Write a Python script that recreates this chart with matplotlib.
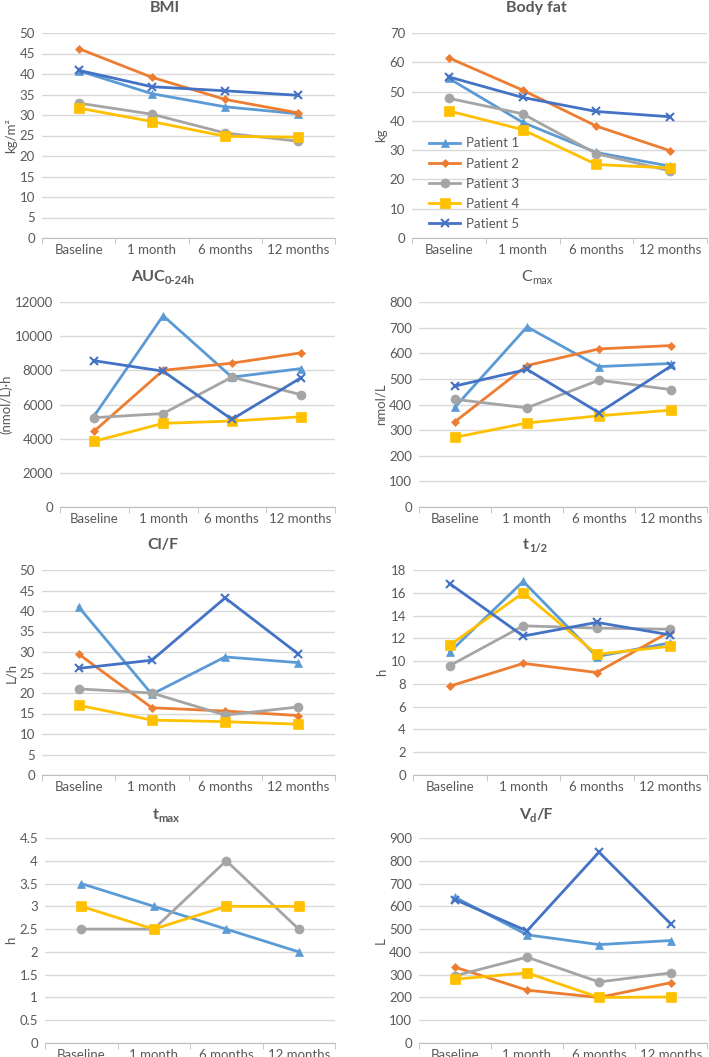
import matplotlib
matplotlib.use("Agg")
import matplotlib.pyplot as plt
from matplotlib import font_manager

# pick a family that really has a bold face installed
title_family = 'DejaVu Sans'
for fam in ['Lato', 'Open Sans', 'Roboto', 'Noto Sans', 'Liberation Sans']:
    path = font_manager.findfont(font_manager.FontProperties(family=fam, weight='bold'),
                                 fallback_to_default=False)
    if 'bold' in path.lower():
        title_family = fam
        break

plt.rcParams['font.family'] = ['Lato', 'DejaVu Sans']

timepoints = ['Baseline', '1 month', '6 months', '12 months']
patients = ['Patient 1', 'Patient 2', 'Patient 3', 'Patient 4', 'Patient 5']

bmi = [[40.8, 35.2, 32.0, 30.3],
       [46.2, 39.2, 33.8, 30.5],
       [32.9, 30.2, 25.6, 23.6],
       [31.7, 28.4, 24.8, 24.6],
       [40.9, 36.9, 35.9, 34.8]]
body_fat = [[54.5, 39.5, 29.2, 24.5],
            [61.5, 50.5, 38.2, 29.8],
            [47.7, 42.4, 28.8, 22.9],
            [43.4, 37.0, 25.1, 23.9],
            [55.0, 48.0, 43.2, 41.4]]
auc = [[5350, 11200, 7600, 8100],
       [4450, 8000, 8420, 9020],
       [5230, 5470, 7600, 6580],
       [3850, 4900, 5030, 5280],
       [8560, 7950, 5130, 7550]]
cmax = [[390, 703, 548, 560],
        [333, 552, 617, 630],
        [420, 387, 495, 458],
        [272, 328, 356, 378],
        [472, 537, 368, 550]]
cl_f = [[41.0, 19.7, 28.8, 27.4],
        [29.5, 16.4, 15.6, 14.5],
        [21.0, 20.0, 14.6, 16.6],
        [17.0, 13.4, 13.0, 12.4],
        [26.0, 28.0, 43.2, 29.5]]
t_half = [[10.8, 17.0, 10.4, 11.6],
          [7.8, 9.8, 9.0, 12.6],
          [9.6, 13.1, 12.9, 12.8],
          [11.4, 16.0, 10.6, 11.3],
          [16.8, 12.2, 13.4, 12.3]]
# only patients 1, 3 and 4 show in the tmax panel
tmax = [[3.5, 3.0, 2.5, 2.0],
        None,
        [2.5, 2.5, 4.0, 2.5],
        [3.0, 2.5, 3.0, 3.0],
        None]
vd_f = [[640, 475, 432, 450],
        [333, 232, 200, 265],
        [295, 377, 268, 308],
        [280, 308, 200, 202],
        [630, 492, 838, 522]]

colors = ['#5B9BD5', '#ED7D31', '#A5A5A5', '#FFC000', '#4472C4']
markers = ['^', 'D', 'o', 's', 'x']
msizes = [6, 4.5, 6.5, 7, 6]
grey = '#595959'

fig = plt.figure(figsize=(7.09, 10.57), dpi=100)
W, H = 709.0, 1057.0
renderer = fig.canvas.get_renderer()


def draw_title(parts, cx, cy, bold=True):
    # parts: list of (text, is_subscript); centred on cx, cy (pixels from top-left)
    weight = 'bold' if bold else 'normal'
    texts = []
    for txt, sub in parts:
        t = fig.text(0, 0, txt, fontsize=8 if sub else 11.5, weight=weight,
                     family=title_family, color=grey, ha='left', va='center')
        texts.append((t, sub, t.get_window_extent(renderer).width))
    total = sum(w for _, _, w in texts)
    xpos = cx - total / 2
    for t, sub, w in texts:
        yy = cy + 4 if sub else cy
        t.set_position((xpos / W, 1 - yy / H))
        xpos += w


# (data, title parts, bold, ylabel, ymax, step, left px, top px, title x px, title y px)
panels = [
    (bmi, [('BMI', False)], True, 'kg/m²', 50, 5, 42, 33, 165, 8),
    (body_fat, [('Body fat', False)], True, 'kg', 70, 10, 412, 33, 536, 8),
    (auc, [('AUC', False), ('0-24h', True)], True, '(nmol/L)·h', 12000, 2000, 60, 302, 163, 277),
    (cmax, [('C', False), ('max', True)], False, 'nmol/L', 800, 100, 419, 302, 537, 277),
    (cl_f, [('Cl/F', False)], True, 'L/h', 50, 5, 42, 570, 163, 545),
    (t_half, [('t', False), ('1/2', True)], True, 'h', 18, 2, 413, 570, 535, 545),
    (tmax, [('t', False), ('max', True)], True, 'h', 4.5, 0.5, 45, 838, 166, 815),
    (vd_f, [('V', False), ('d', True), ('/F', False)], True, 'L', 900, 100, 419, 838, 536, 815),
]

for idx, (data, parts, bold, ylab, ymax, step, left, top, tx, ty) in enumerate(panels):
    right = 335 if left < 354 else 707
    ax = fig.add_axes([left / W, 1 - (top + 205) / H, (right - left) / W, 205 / H])
    x = range(len(timepoints))
    for i, vals in enumerate(data):
        if vals is None:
            continue
        ax.plot(x, vals, color=colors[i], marker=markers[i], markersize=msizes[i],
                linewidth=2, markeredgewidth=1.5 if markers[i] == 'x' else 0.5,
                label=patients[i], zorder=3)
    ax.set_xlim(-0.5, 3.5)
    ax.set_ylim(0, ymax)
    yt = [k * step for k in range(int(round(ymax / step)) + 1)]
    ax.set_yticks(yt)
    ax.set_yticklabels([('%g' % v) for v in yt])
    ax.yaxis.grid(True, color='#D9D9D9', linewidth=1)
    ax.set_axisbelow(True)
    for s in ['top', 'right', 'left']:
        ax.spines[s].set_visible(False)
    ax.spines['bottom'].set_color('#BFBFBF')
    ax.set_xticks(list(x))
    ax.set_xticklabels(timepoints)
    ax.set_xticks([-0.5, 0.5, 1.5, 2.5, 3.5], minor=True)
    ax.tick_params(axis='x', which='major', length=0, labelsize=9.5, labelcolor=grey, pad=4)
    ax.tick_params(axis='x', which='minor', length=4, color='#BFBFBF')
    ax.tick_params(axis='y', length=0, labelsize=9.5, labelcolor=grey, pad=5)
    ax.set_ylabel(ylab, fontsize=9.5, color=grey, labelpad=2)
    draw_title(parts, tx, ty, bold)
    if idx == 1:
        ax.legend(loc='lower left', bbox_to_anchor=(0.03, 0.0), frameon=False,
                  fontsize=9.5, labelcolor=grey, handlelength=2.4, handletextpad=0.4,
                  labelspacing=0.62, borderaxespad=0.2)

fig.savefig('out.png', dpi=100)
